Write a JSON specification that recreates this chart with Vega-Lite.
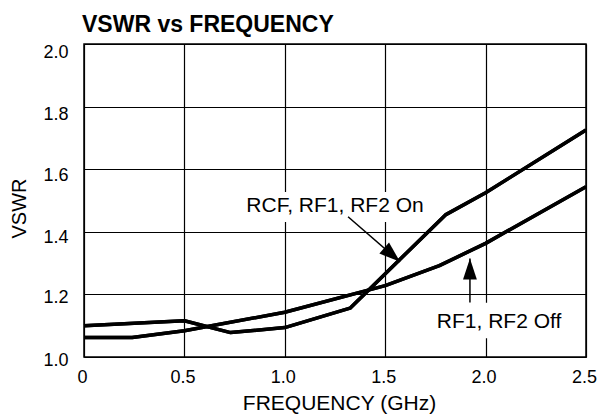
{
  "$schema": "https://vega.github.io/schema/vega-lite/v6.json",
  "width": 502,
  "height": 313,
  "autosize": {"type": "none"},
  "padding": {"left": 84, "top": 44, "right": 11, "bottom": 57},
  "background": "white",
  "config": {
    "font": "Liberation Sans",
    "view": {"stroke": "black", "strokeWidth": 1.5}
  },
  "title": {
    "text": "VSWR vs FREQUENCY",
    "anchor": "start",
    "frame": "group",
    "font": "Liberation Sans",
    "fontSize": 23,
    "fontWeight": "bold",
    "color": "black",
    "offset": 13,
    "baseline": "alphabetic",
    "dx": -2,
    "dy": 25
  },
  "datasets": {
    "curves": [
      {"series": "on", "x": 0, "y": 1.100},
      {"series": "on", "x": 0.5, "y": 1.116},
      {"series": "on", "x": 0.73, "y": 1.078},
      {"series": "on", "x": 1.0, "y": 1.094},
      {"series": "on", "x": 1.325, "y": 1.156},
      {"series": "on", "x": 1.8, "y": 1.454},
      {"series": "on", "x": 2.0, "y": 1.525},
      {"series": "on", "x": 2.5, "y": 1.725},
      {"series": "off", "x": 0, "y": 1.062},
      {"series": "off", "x": 0.24, "y": 1.062},
      {"series": "off", "x": 0.5, "y": 1.084},
      {"series": "off", "x": 1.0, "y": 1.143},
      {"series": "off", "x": 1.5, "y": 1.228},
      {"series": "off", "x": 1.77, "y": 1.292},
      {"series": "off", "x": 2.0, "y": 1.363},
      {"series": "off", "x": 2.5, "y": 1.544}
    ],
    "arrows": [
      {"id": "on", "x": 1.315, "y": 1.448, "x2": 1.574, "y2": 1.304},
      {"id": "off", "x": 1.922, "y": 1.174, "x2": 1.922, "y2": 1.315}
    ],
    "labels": [
      {"id": "on", "text": "RCF, RF1, RF2 On", "x": 1.25, "y": 1.463, "x0": 0.792, "x1": 1.713, "y0": 1.431, "y1": 1.527},
      {"id": "off", "text": "RF1, RF2 Off", "x": 2.067, "y": 1.093, "x0": 1.743, "x1": 2.395, "y0": 1.06, "y1": 1.1735}
    ]
  },
  "layer": [
    {
      "data": {"name": "curves"},
      "mark": {"type": "line", "color": "black", "strokeWidth": 3.5, "strokeJoin": "round"},
      "encoding": {
        "x": {
          "field": "x", "type": "quantitative", "title": "FREQUENCY (GHz)",
          "scale": {"domain": [0, 2.5], "nice": false, "zero": false},
          "axis": {
            "values": [0, 0.5, 1, 1.5, 2, 2.5],
            "grid": true, "gridColor": "black", "gridWidth": 1.2, "gridOpacity": 1,
            "ticks": false, "domain": false,
            "labelFontSize": 18, "labelColor": "black", "labelPadding": 11,
            "labelBaseline": "top", "labelOffset": -2, "labelFlush": false, "labelOverlap": false,
            "labelExpr": "datum.value == 0 ? '0' : format(datum.value, '.1f')",
            "titleFontSize": 21, "titleFontWeight": "normal", "titleColor": "black",
            "titleX": 255, "titleY": 52.7, "titleBaseline": "alphabetic", "titleAlign": "center"
          }
        },
        "y": {
          "field": "y", "type": "quantitative", "title": "VSWR",
          "scale": {"domain": [1, 2], "nice": false, "zero": false},
          "axis": {
            "values": [1, 1.2, 1.4, 1.6, 1.8, 2],
            "format": ".1f",
            "grid": true, "gridColor": "black", "gridWidth": 1.2, "gridOpacity": 1,
            "ticks": false, "domain": false,
            "labelFontSize": 18, "labelColor": "black", "labelPadding": 16,
            "labelBaseline": "middle", "labelOverlap": false,
            "labelOffset": {"condition": [{"test": "datum.value >= 1.7", "value": 8}, {"test": "datum.value >= 1.3", "value": 6}], "value": 3},
            "titleFontSize": 20, "titleFontWeight": "normal", "titleColor": "black",
            "titleAngle": -90, "titleX": -59, "titleY": 164, "titleBaseline": "alphabetic", "titleAlign": "center"
          }
        },
        "detail": {"field": "series"}
      }
    },
    {
      "data": {"name": "labels"},
      "mark": {"type": "rect", "fill": "white", "strokeWidth": 0},
      "encoding": {
        "x": {"field": "x0", "type": "quantitative", "title": "FREQUENCY (GHz)", "scale": {"domain": [0, 2.5], "nice": false, "zero": false}},
        "x2": {"field": "x1"},
        "y": {"field": "y0", "type": "quantitative", "title": "VSWR", "scale": {"domain": [1, 2], "nice": false, "zero": false}},
        "y2": {"field": "y1"}
      }
    },
    {
      "data": {"name": "curves"},
      "mark": {"type": "line", "color": "black", "strokeWidth": 3.5, "strokeJoin": "round"},
      "encoding": {
        "x": {"field": "x", "type": "quantitative", "title": "FREQUENCY (GHz)", "scale": {"domain": [0, 2.5], "nice": false, "zero": false}},
        "y": {"field": "y", "type": "quantitative", "title": "VSWR", "scale": {"domain": [1, 2], "nice": false, "zero": false}},
        "detail": {"field": "series"}
      }
    },
    {
      "data": {"name": "arrows"},
      "mark": {"type": "rule", "color": "black", "strokeWidth": 1.5},
      "encoding": {
        "x": {"field": "x", "type": "quantitative", "title": "FREQUENCY (GHz)", "scale": {"domain": [0, 2.5], "nice": false, "zero": false}},
        "y": {"field": "y", "type": "quantitative", "title": "VSWR", "scale": {"domain": [1, 2], "nice": false, "zero": false}},
        "x2": {"field": "x2"},
        "y2": {"field": "y2"}
      }
    },
    {
      "data": {"name": "arrows"},
      "transform": [{"filter": "datum.id == 'on'"}],
      "mark": {"type": "point", "shape": "M0,0L-0.35,1L0.35,1Z", "angle": 131, "size": 1764, "filled": true, "color": "black", "opacity": 1, "strokeWidth": 0},
      "encoding": {
        "x": {"field": "x2", "type": "quantitative", "title": "FREQUENCY (GHz)", "scale": {"domain": [0, 2.5], "nice": false, "zero": false}},
        "y": {"field": "y2", "type": "quantitative", "title": "VSWR", "scale": {"domain": [1, 2], "nice": false, "zero": false}}
      }
    },
    {
      "data": {"name": "arrows"},
      "transform": [{"filter": "datum.id == 'off'"}],
      "mark": {"type": "point", "shape": "M0,0L-0.33,1L0.33,1Z", "angle": 0, "size": 1764, "filled": true, "color": "black", "opacity": 1, "strokeWidth": 0},
      "encoding": {
        "x": {"field": "x2", "type": "quantitative", "title": "FREQUENCY (GHz)", "scale": {"domain": [0, 2.5], "nice": false, "zero": false}},
        "y": {"field": "y2", "type": "quantitative", "title": "VSWR", "scale": {"domain": [1, 2], "nice": false, "zero": false}}
      }
    },
    {
      "data": {"name": "labels"},
      "mark": {"type": "text", "fontSize": 21, "align": "center", "baseline": "alphabetic", "color": "black", "font": "Liberation Sans"},
      "encoding": {
        "x": {"field": "x", "type": "quantitative", "title": "FREQUENCY (GHz)", "scale": {"domain": [0, 2.5], "nice": false, "zero": false}},
        "y": {"field": "y", "type": "quantitative", "title": "VSWR", "scale": {"domain": [1, 2], "nice": false, "zero": false}},
        "text": {"field": "text"}
      }
    }
  ]
}
